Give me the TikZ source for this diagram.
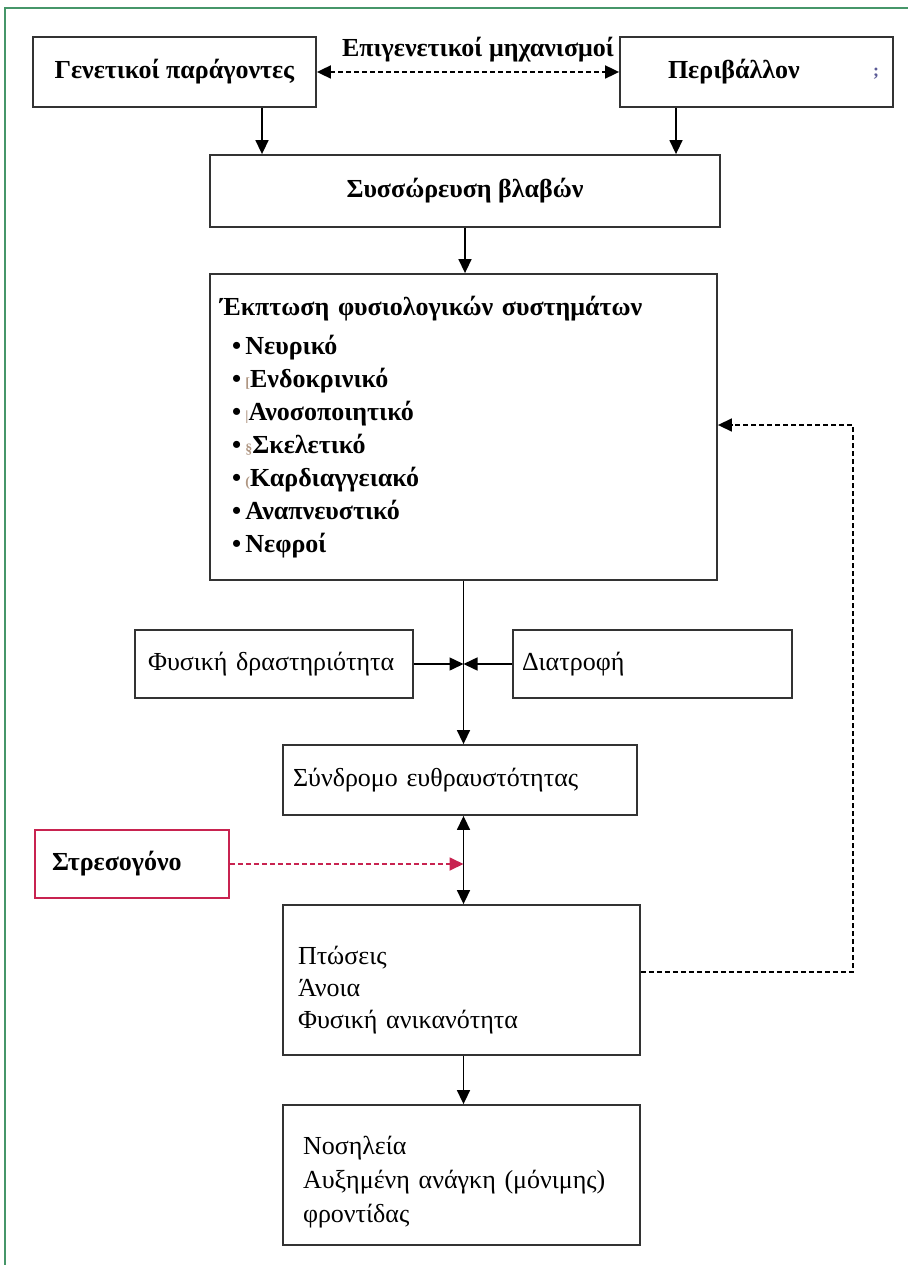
\documentclass[tikz,border=0pt]{standalone}
\usepackage{fontspec}
\setmainfont{Liberation Serif}
\usepackage{xcolor}
\usetikzlibrary{arrows.meta}

\definecolor{framegreen}{RGB}{70,150,105}
\definecolor{stressred}{RGB}{200,35,80}
\definecolor{markgray}{RGB}{175,150,130}
\definecolor{semiblue}{RGB}{90,90,150}

\newcommand{\oddmark}[1]{\textcolor{markgray}{\fontsize{14}{14}\selectfont #1}}

\begin{document}
\begin{tikzpicture}[x=1pt,y=-1pt,>={Triangle[length=14pt,width=13pt]},line width=1.5pt,
                    font=\fontsize{26}{30}\selectfont]
    \tikzset{box/.style={draw=black!80, line width=1.8pt, inner sep=0pt},
             leftbox/.style={box, align=left, text width=#1},
             dashline/.style={dash pattern=on 5pt off 3pt, line width=1.8pt}}

    \useasboundingbox (0,0) rectangle (908,1265);
    \draw[framegreen, line width=1.6pt] (5,1265) -- (5,8) -- (908,8);

    % top row
    \node[box, minimum width=283pt, minimum height=70pt] (gen) at (174.5,72) {\textbf{Γενετικοί παράγοντες}};
    \node[leftbox=177pt, minimum width=273pt, minimum height=70pt, inner xsep=48pt] (env) at (756.5,72) {\textbf{Περιβάλλον}};
    \node[text=semiblue, font=\bfseries\fontsize{18}{18}\selectfont] (semi) at (876,74) {;};
    \node[font=\bfseries\fontsize{26}{30}\selectfont] (epi) at (478,50) {Επιγενετικοί μηχανισμοί};
    \draw[<->, dashline] (gen.east) -- (env.west);

    \node[box, minimum width=510pt, minimum height=72pt] (dmg) at (465,191) {\textbf{Συσσώρευση βλαβών}};
    \draw[->] ([xshift=87.5pt]gen.south) -- ([xshift=87.5pt]gen.south |- dmg.north);
    \draw[->] ([xshift=-80.5pt]env.south) -- ([xshift=-80.5pt]env.south |- dmg.north);

    % systems
    \node[leftbox=487pt, minimum width=507pt, minimum height=306pt, inner xsep=10pt,
          font=\bfseries\fontsize{26}{33}\selectfont] (sys) at (463.5,427)
        {Έκπτωση φυσιολογικών συστημάτων\\[6pt]
         \hspace*{12pt}•\,Νευρικό\\
         \hspace*{12pt}•\,\oddmark{[}Ενδοκρινικό\\
         \hspace*{12pt}•\,\oddmark{|}Ανοσοποιητικό\\
         \hspace*{12pt}•\,\oddmark{§}Σκελετικό\\
         \hspace*{12pt}•\,\oddmark{(}Καρδιαγγειακό\\
         \hspace*{12pt}•\,Αναπνευστικό\\
         \hspace*{12pt}•\,Νεφροί};
    \draw[->] (dmg.south) -- (dmg.south |- sys.north);

    % modifiers
    \node[leftbox=252pt, minimum width=278pt, minimum height=68pt, inner xsep=13pt] (phys) at (274,664) {Φυσική δραστηριότητα};
    \node[leftbox=261pt, minimum width=279pt, minimum height=68pt, inner xsep=9pt] (diet) at (652.5,664) {Διατροφή};

    \node[leftbox=334pt, minimum width=354pt, minimum height=70pt, inner xsep=10pt] (frail) at (460,780) {Σύνδρομο ευθραυστότητας};
    \draw[->] (sys.south) -- (sys.south |- frail.north);
    \draw[->] (phys.east) -- (phys.east -| sys.south);
    \draw[->] (diet.west) -- (diet.west -| sys.south);

    % stressor
    \node[leftbox=160pt, draw=stressred, minimum width=194pt, minimum height=68pt, inner xsep=17pt] (stress) at (132,864) {\textbf{Στρεσογόνο}};

    \node[leftbox=327pt, minimum width=357pt, minimum height=150pt, inner xsep=15pt,
          font=\fontsize{26}{32}\selectfont] (out) at (461.5,980)
        {\rule{0pt}{38pt}Πτώσεις\\ Άνοια\\ Φυσική ανικανότητα};
    \draw[<->] (frail.south -| sys.south) -- (out.north -| sys.south);
    \draw[->, dashline, stressred] (stress.east) -- (stress.east -| sys.south);

    \node[leftbox=317pt, minimum width=357pt, minimum height=140pt, inner xsep=20pt,
          font=\fontsize{26}{34}\selectfont] (care) at (461.5,1175)
        {\rule{0pt}{32pt}Νοσηλεία\\ Αυξημένη ανάγκη (μόνιμης)\\ φροντίδας};
    \draw[->] (out.south -| sys.south) -- (care.north -| sys.south);

    % feedback loop
    \coordinate (loop) at (853,425);
    \draw[->, dashline, line width=1.5pt] ([yshift=8pt]out.east) -| (loop) -- (loop -| sys.east);
\end{tikzpicture}
\end{document}
